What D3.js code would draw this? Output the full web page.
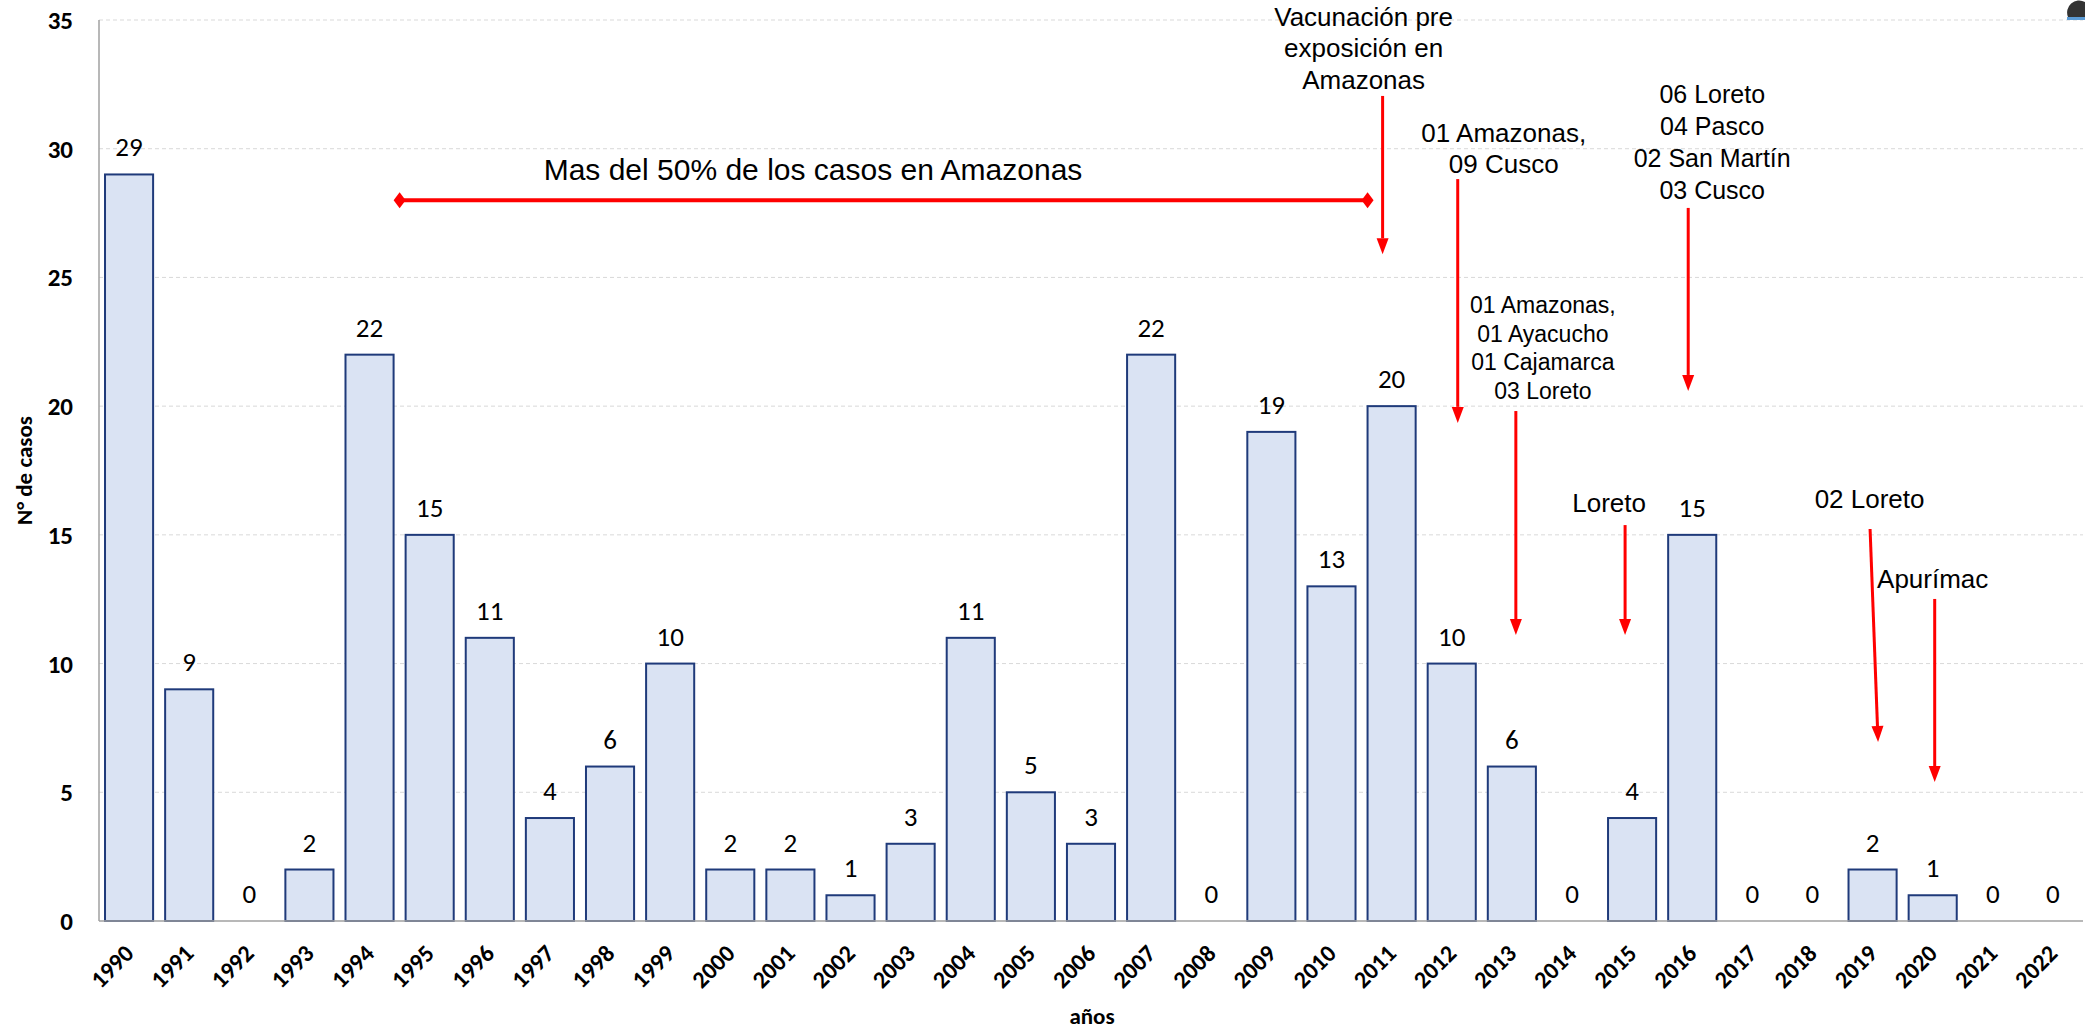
<!DOCTYPE html>
<html>
<head>
<meta charset="utf-8">
<script src="https://cdn.jsdelivr.net/npm/d3@7"></script>
<style>
  body { margin: 0; background: #fff; }
  svg { display: block; }
  .tick-y { font-family: Carlito, Calibri, Lato, sans-serif; font-weight: bold; font-size: 25px; fill: #000; }
  .tick-x { font-family: Carlito, Calibri, Lato, sans-serif; font-weight: bold; font-size: 24px; fill: #000; }
  .val { font-family: Carlito, Calibri, Lato, sans-serif; font-size: 27px; fill: #000; }
  .title { font-family: Carlito, Calibri, Lato, sans-serif; font-weight: bold; font-size: 23px; fill: #000; }
  .note { font-family: "Liberation Sans", Arial, sans-serif; fill: #000; }
</style>
</head>
<body>
<svg id="chart" width="2085" height="1030"></svg>
<script>
// data
const years = d3.range(1990, 2023).map(String);
const cases = [29, 9, 0, 2, 22, 15, 11, 4, 6, 10, 2, 2, 1, 3, 11, 5, 3, 22, 0, 19, 13, 20, 10, 6, 0, 4, 15, 0, 0, 2, 1, 0, 0];
const yTicks = [0, 5, 10, 15, 20, 25, 30, 35];

// annotations: year it points at, text lines, text baseline (in cases), arrow start/end (in cases)
const notes = [
  { year: '2011', lines: ['Vacunación pre', 'exposición en', 'Amazonas'], top: 34.77, from: 32.05, to: 25.9 },
  { year: '2012', lines: ['01 Amazonas,', '09 Cusco'], top: 30.26, from: 28.82, to: 19.35 },
  { year: '2016', lines: ['06 Loreto', '04 Pasco', '02 San Martín', '03 Cusco'], top: 31.78, from: 27.7, to: 20.59 },
  { year: '2013', lines: ['01 Amazonas,', '01 Ayacucho', '01 Cajamarca', '03 Loreto'], top: 23.62, from: 19.81, to: 11.11 },
  { year: '2015', lines: ['Loreto'], top: 15.89, from: 15.38, to: 11.11 },
  { year: '2019', lines: ['02 Loreto'], top: 16.04, from: 15.23, to: 6.95 },
  { year: '2020', lines: ['Apurímac'], top: 12.94, from: 12.51, to: 5.4 }
];
// pixel nudges for text/arrows relative to bar centre, and font sizes
const noteStyle = [
  { tdx: -28, adx: -9, adx2: -9, size: 26, lh: 31.5 },
  { tdx: 52, adx: 6, adx2: 6, size: 26, lh: 31 },
  { tdx: 20, adx: -4, adx2: -4, size: 25, lh: 32 },
  { tdx: 31, adx: 4, adx2: 4, size: 23, lh: 28.7 },
  { tdx: -23, adx: -7, adx2: -7, size: 26, lh: 30 },
  { tdx: -3, adx: -2.5, adx2: 5.5, size: 26, lh: 30 },
  { tdx: 0, adx: 2, adx2: 2, size: 26, lh: 30 }
];
const spanYears = ['1995', '2011'];
const spanValue = 28;
const spanLabel = 'Mas del 50% de los casos en Amazonas';

const svg = d3.select('#chart');
const plotL = 99, plotR = 2083, plotT = 20, plotB = 921;

const x = d3.scaleBand().domain(years).range([plotL, plotR]).paddingInner(0.2).paddingOuter(0.1);
const y = d3.scaleLinear().domain([0, 35]).range([plotB, plotT]);
const cx = d => x(d) + x.bandwidth() / 2;

// gridlines
svg.append('g').selectAll('line').data(yTicks.filter(d => d > 0)).join('line')
  .attr('x1', plotL).attr('x2', plotR)
  .attr('y1', d => y(d)).attr('y2', d => y(d))
  .attr('stroke', '#d9d9d9').attr('stroke-width', 1).attr('stroke-dasharray', '4,3');

// y tick labels
svg.append('g').selectAll('text').data(yTicks).join('text')
  .attr('class', 'tick-y')
  .attr('x', 73).attr('y', d => y(d) + 9)
  .attr('text-anchor', 'end')
  .text(d => d);

// bars
svg.append('g').selectAll('rect').data(cases.map((v, i) => [years[i], v]).filter(d => d[1] > 0)).join('rect')
  .attr('x', d => x(d[0])).attr('width', x.bandwidth())
  .attr('y', d => y(d[1])).attr('height', d => plotB - y(d[1]))
  .attr('fill', '#dae3f3').attr('stroke', '#1f3a7a').attr('stroke-width', 2);

// axis lines
svg.append('line').attr('x1', plotL).attr('x2', plotL).attr('y1', plotT).attr('y2', plotB)
  .attr('stroke', '#a0a0a0').attr('stroke-width', 1.5);
svg.append('line').attr('x1', plotL).attr('x2', plotR).attr('y1', plotB).attr('y2', plotB)
  .attr('stroke', '#a0a0a0').attr('stroke-width', 1.5);

// value labels
svg.append('g').selectAll('text').data(cases).join('text')
  .attr('class', 'val')
  .attr('x', (d, i) => cx(years[i])).attr('y', d => y(d) - 18)
  .attr('text-anchor', 'middle')
  .text(d => d);

// x tick labels
svg.append('g').selectAll('text').data(years).join('text')
  .attr('class', 'tick-x')
  .attr('text-anchor', 'end')
  .attr('transform', d => `translate(${cx(d) + 6},${plotB + 34}) rotate(-45)`)
  .text(d => d);

// axis titles
svg.append('text').attr('class', 'title')
  .attr('transform', `translate(32,${(plotT + plotB) / 2}) rotate(-90)`)
  .attr('text-anchor', 'middle').text('N° de casos');
svg.append('text').attr('class', 'title')
  .attr('x', 1092).attr('y', 1024).attr('text-anchor', 'middle').text('años');

// red span with diamond ends
const red = '#ff0000';
const sx1 = x(spanYears[0]) - 6, sx2 = x(spanYears[1]), sy = y(spanValue);
svg.append('line').attr('x1', sx1).attr('x2', sx2).attr('y1', sy).attr('y2', sy)
  .attr('stroke', red).attr('stroke-width', 4);
svg.append('g').selectAll('path').data([sx1, sx2]).join('path')
  .attr('d', d => `M${d - 6},${sy} L${d},${sy - 8} L${d + 6},${sy} L${d},${sy + 8} Z`)
  .attr('fill', red);
svg.append('text').attr('class', 'note')
  .attr('x', 813).attr('y', y(28.79)).attr('text-anchor', 'middle')
  .attr('font-size', 30).text(spanLabel);

// annotation texts and arrows
const noteG = svg.append('g');
notes.forEach((n, i) => {
  const s = noteStyle[i];
  const c = cx(n.year);
  const t = noteG.append('text').attr('class', 'note')
    .attr('text-anchor', 'middle').attr('font-size', s.size);
  n.lines.forEach((line, j) => {
    t.append('tspan').attr('x', c + s.tdx).attr('y', y(n.top) + j * s.lh).text(line);
  });
  const x1 = c + s.adx, y1 = y(n.from), x2 = c + s.adx2, y2 = y(n.to);
  const ang = Math.atan2(y2 - y1, x2 - x1);
  const len = 16, hw = 6;
  const bx = x2 - len * Math.cos(ang), by = y2 - len * Math.sin(ang);
  noteG.append('line').attr('x1', x1).attr('y1', y1).attr('x2', bx).attr('y2', by)
    .attr('stroke', red).attr('stroke-width', 3);
  noteG.append('path')
    .attr('d', `M${x2},${y2} L${bx - hw * Math.sin(ang)},${by + hw * Math.cos(ang)} L${bx + hw * Math.sin(ang)},${by - hw * Math.cos(ang)} Z`)
    .attr('fill', red);
});

// clipped logo fragment in the top right corner
svg.append('path').attr('d', 'M2068,17 A12,12 0 0 1 2085,2 L2085,17 Z').attr('fill', '#333');
svg.append('rect').attr('x', 2067).attr('y', 17).attr('width', 18).attr('height', 3).attr('fill', '#5b9bd5');
</script>
</body>
</html>
